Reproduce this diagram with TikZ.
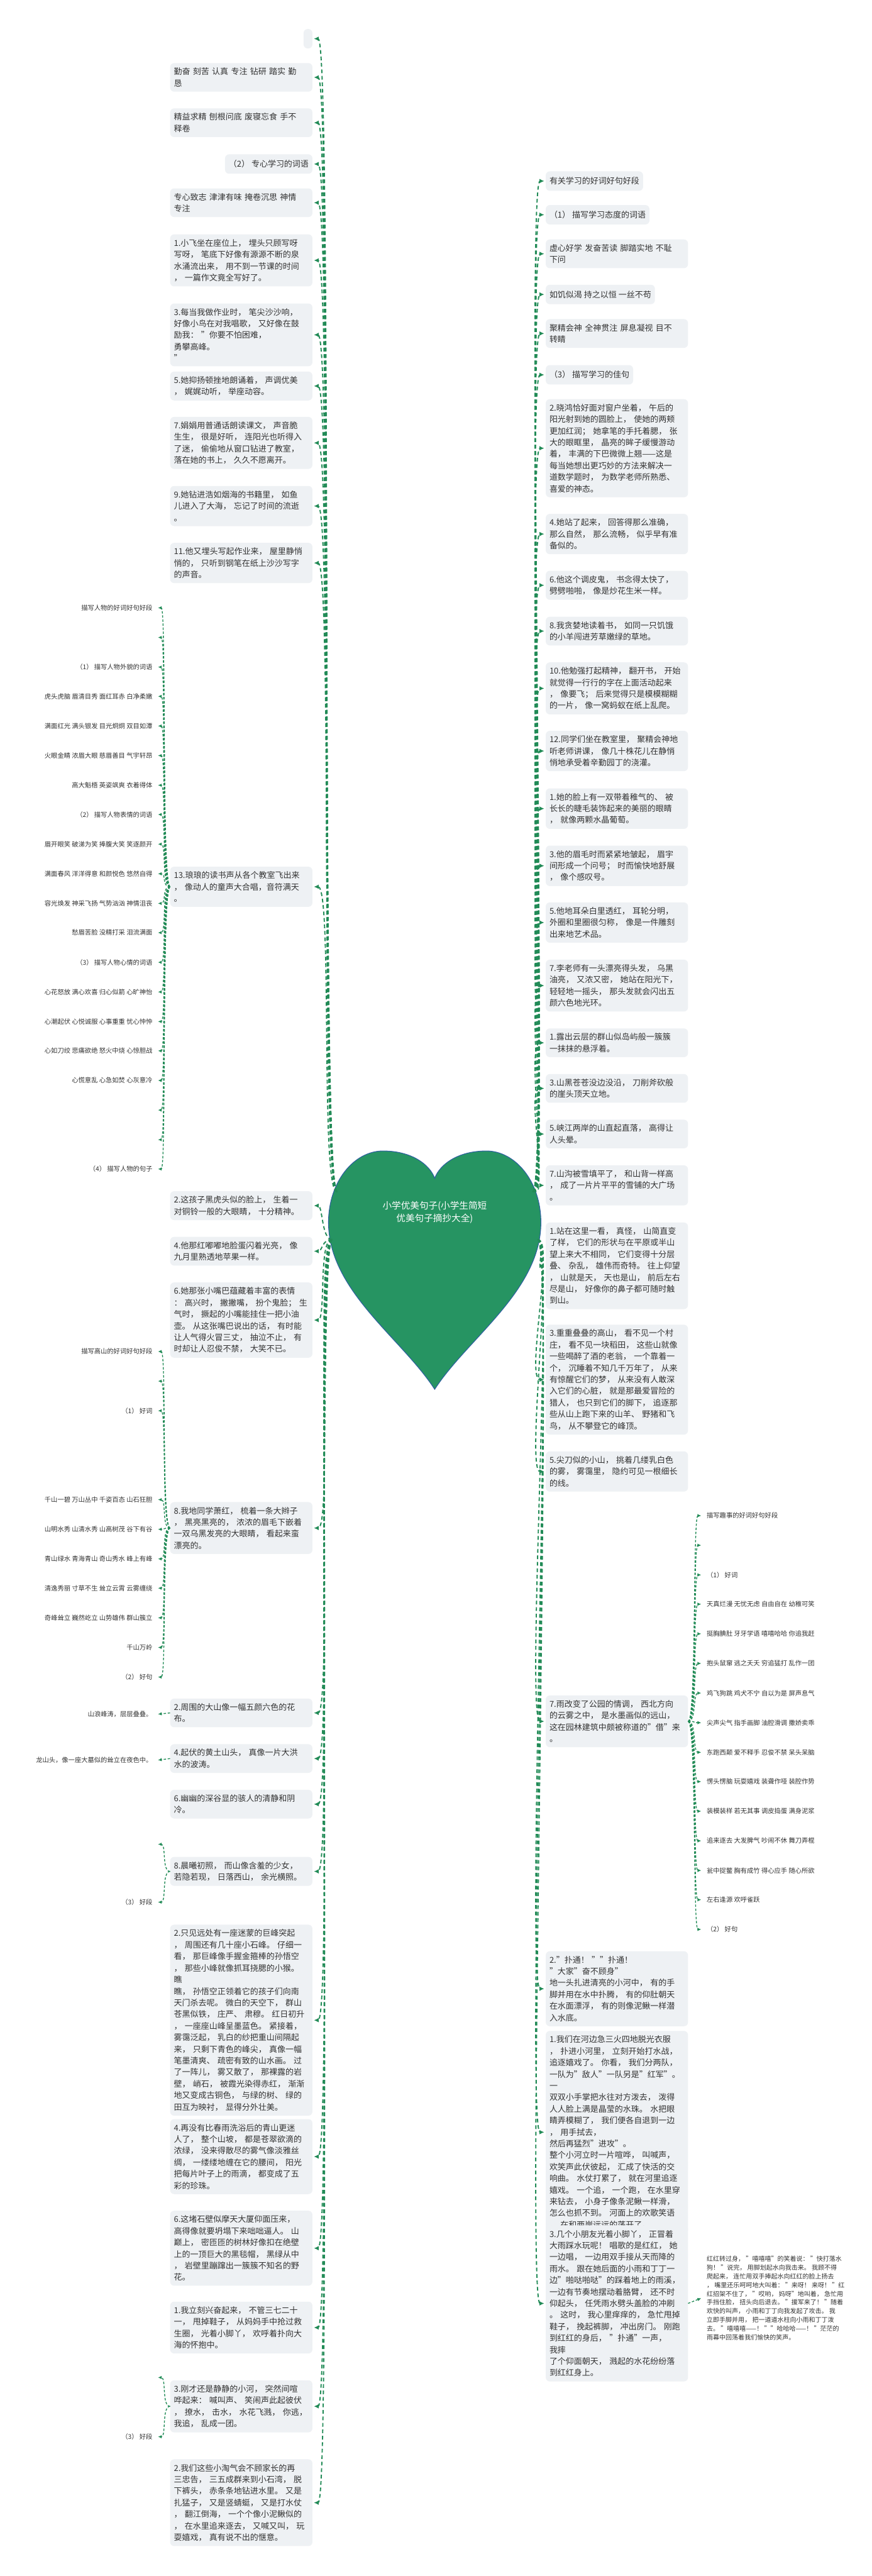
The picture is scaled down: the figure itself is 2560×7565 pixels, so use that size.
\documentclass[tikz,border=0pt]{standalone}
\usepackage{fontspec}
\setmainfont{Noto Sans CJK SC}
\usetikzlibrary{arrows.meta}
\definecolor{linkgreen}{RGB}{34,139,87}
\definecolor{heartgreen}{RGB}{38,148,98}
\definecolor{heartline}{RGB}{45,95,160}
\definecolor{boxgray}{RGB}{238,241,244}
\definecolor{inkgray}{RGB}{51,51,51}

\begin{document}
\begin{tikzpicture}[x=1pt, y=-1pt,
    every node/.style={font=\fontsize{24}{34}\selectfont, text=inkgray},
    card/.style={fill=boxgray, rounded corners=12pt, inner xsep=11pt, inner ysep=14pt, align=left},
    wide/.style={card, text width=396pt},
    tag/.style={card, minimum height=57pt},
    word/.style={font=\fontsize{19}{26}\selectfont, inner xsep=16pt, inner ysep=4pt},
    link/.style={linkgreen, line width=3.5pt, dash pattern=on 11pt off 8pt, -{Latex[length=14pt,width=13pt]}, shorten >=4pt},
    sublink/.style={linkgreen, line width=2.5pt, dash pattern=on 7pt off 5pt, -{Latex[length=11pt,width=10pt]}}]
    \useasboundingbox (0,0) rectangle (2560,7565);
    \fill[white] (0,0) rectangle (2560,7565);
    % heart
    \filldraw[fill=heartgreen, draw=heartline, line width=2pt]
      (1277,4080) .. controls (1180,3930) and (965,3790) .. (965,3590)
      .. controls (965,3470) and (1040,3380) .. (1125,3380)
      .. controls (1210,3380) and (1262,3420) .. (1277,3460)
      .. controls (1292,3420) and (1344,3380) .. (1429,3380)
      .. controls (1514,3380) and (1589,3470) .. (1589,3590)
      .. controls (1589,3790) and (1374,3930) .. (1277,4080) -- cycle;
    \node[text=white, font=\fontsize{27}{38}\selectfont, align=center] (root) at (1277,3560) {小学优美句子(小学生简短\\优美句子摘抄大全)};
    \coordinate (hUL) at (990,3500);
    \coordinate (hLL) at (975,3640);
    \coordinate (hUR) at (1565,3500);
    \coordinate (hLR) at (1580,3640);

    % left column
    \node[card, anchor=north east, minimum height=57pt, minimum width=26pt] (l0) at (918,85) {};
    \node[wide, anchor=north east] (l1) at (918,185) {勤奋 刻苦 认真 专注 钻研 踏实 勤\\恳};
    \node[wide, anchor=north east] (l2) at (918,318) {精益求精 刨根问底 废寝忘食 手不\\释卷};
    \node[tag, anchor=north east] (l3) at (918,453) {（2） 专心学习的词语};
    \node[wide, anchor=north east] (l4) at (918,553) {专心致志 津津有味 掩卷沉思 神情\\专注};
    \node[wide, anchor=north east] (l5) at (918,688) {1.小飞坐在座位上， 埋头只顾写呀\\写呀， 笔底下好像有源源不断的泉\\水涌流出来， 用不到一节课的时间\\， 一篇作文竟全写好了。};
    \node[wide, anchor=north east] (l6) at (918,891) {3.每当我做作业时， 笔尖沙沙响，\\好像小鸟在对我唱歌， 又好像在鼓\\励我： "你要不怕困难， 勇攀高峰。\\"};
    \node[wide, anchor=north east] (l7) at (918,1091) {5.她抑扬顿挫地朗诵着， 声调优美\\， 娓娓动听， 举座动容。};
    \node[wide, anchor=north east] (l8) at (918,1224) {7.娟娟用普通话朗读课文， 声音脆\\生生， 很是好听， 连阳光也听得入\\了迷， 偷偷地从窗口钻进了教室，\\落在她的书上， 久久不愿离开。};
    \node[wide, anchor=north east] (l9) at (918,1427) {9.她钻进浩如烟海的书籍里， 如鱼\\儿进入了大海， 忘记了时间的流逝\\。};
    \node[wide, anchor=north east] (l10) at (918,1594) {11.他又埋头写起作业来， 屋里静悄\\悄的， 只听到钢笔在纸上沙沙写字\\的声音。};
    \node[wide, anchor=north east] (l11) at (918,2545) {13.琅琅的读书声从各个教室飞出来\\， 像动人的童声大合唱，音符满天\\。};
    \node[wide, anchor=north east] (l12) at (918,3498) {2.这孩子黑虎头似的脸上， 生着一\\对铜铃一般的大眼睛， 十分精神。};
    \node[wide, anchor=north east] (l13) at (918,3632) {4.他那红嘟嘟地脸蛋闪着光亮， 像\\九月里熟透地苹果一样。};
    \node[wide, anchor=north east] (l14) at (918,3766) {6.她那张小嘴巴蕴藏着丰富的表情\\： 高兴时， 撇撇嘴， 扮个鬼脸； 生\\气时， 撅起的小嘴能挂住一把小油\\壶。 从这张嘴巴说出的话， 有时能\\让人气得火冒三丈， 抽泣不止， 有\\时却让人忍俊不禁， 大笑不已。};
    \node[wide, anchor=north east] (l15) at (918,4411) {8.我地同学萧红， 梳着一条大辫子\\， 黑亮黑亮的， 浓浓的眉毛下嵌着\\一双乌黑发亮的大眼睛， 看起来蛮\\漂亮的。};
    \node[wide, anchor=north east] (l16) at (918,4988) {2.周围的大山像一幅五颜六色的花\\布。};
    \node[wide, anchor=north east] (l17) at (918,5122) {4.起伏的黄土山头， 真像一片大洪\\水的波涛。};
    \node[wide, anchor=north east] (l18) at (918,5256) {6.幽幽的深谷显的骇人的清静和阴\\冷。};
    \node[wide, anchor=north east] (l19) at (918,5453) {8.晨曦初照， 而山像含羞的少女，\\若隐若现， 日落西山， 余光横照。};
    \node[wide, anchor=north east] (l20) at (918,5652) {2.只见远处有一座迷蒙的巨峰突起\\， 周围还有几十座小石峰。 仔细一\\看， 那巨峰像手握金箍棒的孙悟空\\， 那些小峰就像抓耳挠腮的小猴。 瞧\\瞧， 孙悟空正领着它的孩子们向南\\天门杀去呢。 微白的天空下， 群山\\苍黑似铁， 庄严、 肃穆。 红日初升\\， 一座座山峰呈墨蓝色。 紧接着，\\雾霭泛起， 乳白的纱把重山间隔起\\来， 只剩下青色的峰尖， 真像一幅\\笔墨清爽、 疏密有致的山水画。 过\\了一阵儿， 雾又散了， 那裸露的岩\\壁， 峭石， 被霞光染得赤红， 渐渐\\地又变成古铜色， 与绿的树、 绿的\\田互为映衬， 显得分外壮美。};
    \node[wide, anchor=north east] (l21) at (918,6223) {4.再没有比春雨洗浴后的青山更迷\\人了， 整个山坡， 都是苍翠欲滴的\\浓绿， 没来得散尽的雾气像淡雅丝\\绸， 一缕缕地缠在它的腰间， 阳光\\把每片叶子上的雨滴， 都变成了五\\彩的珍珠。};
    \node[wide, anchor=north east] (l22) at (918,6492) {6.这堵石壁似摩天大厦仰面压来，\\高得像就要坍塌下来咄咄逼人。 山\\巅上， 密匝匝的树林好像扣在绝壁\\上的一顶巨大的黑毯帽， 黑绿从中\\， 岩壁里蹦蹿出一簇簇不知名的野\\花。};
    \node[wide, anchor=north east] (l23) at (918,6759) {1.我立刻兴奋起来， 不管三七二十\\一， 甩掉鞋子， 从妈妈手中抢过救\\生圈， 光着小脚丫， 欢呼着扑向大\\海的怀抱中。};
    \node[wide, anchor=north east] (l24) at (918,6990) {3.刚才还是静静的小河， 突然间喧\\哗起来： 喊叫声、 笑闹声此起彼伏\\， 撩水， 击水， 水花飞溅， 你逃，\\我追， 乱成一团。};
    \node[wide, anchor=north east] (l25) at (918,7222) {2.我们这些小淘气会不顾家长的再\\三忠告， 三五成群来到小石湾， 脱\\下裤头， 赤条条地钻进水里。 又是\\扎猛子， 又是竖蜻蜓， 又是打水仗\\， 翻江倒海， 一个个像小泥鳅似的\\， 在水里追来逐去， 又喊又叫， 玩\\耍嬉戏， 真有说不出的惬意。};

    % right column
    \node[tag, anchor=north west] (r1) at (1603,503) {有关学习的好词好句好段};
    \node[tag, anchor=north west] (r2) at (1603,602) {（1） 描写学习态度的词语};
    \node[wide, anchor=north west] (r3) at (1603,703) {虚心好学 发奋苦读 脚踏实地 不耻\\下问};
    \node[tag, anchor=north west] (r4) at (1603,836) {如饥似渴 持之以恒 一丝不苟};
    \node[wide, anchor=north west] (r5) at (1603,937) {聚精会神 全神贯注 屏息凝视 目不\\转睛};
    \node[tag, anchor=north west] (r6) at (1603,1072) {（3） 描写学习的佳句};
    \node[wide, anchor=north west] (r7) at (1603,1172) {2.晓鸿恰好面对窗户坐着， 午后的\\阳光射到她的圆脸上， 使她的两颊\\更加红润； 她拿笔的手托着腮， 张\\大的眼眶里， 晶亮的眸子缓慢游动\\着， 丰满的下巴微微上翘——这是\\每当她想出更巧妙的方法来解决一\\道数学题时， 为数学老师所熟悉、\\喜爱的神态。};
    \node[wide, anchor=north west] (r8) at (1603,1509) {4.她站了起来， 回答得那么准确，\\那么自然， 那么流畅， 似乎早有准\\备似的。};
    \node[wide, anchor=north west] (r9) at (1603,1676) {6.他这个调皮鬼， 书念得太快了，\\劈劈啪啪， 像是炒花生米一样。};
    \node[wide, anchor=north west] (r10) at (1603,1811) {8.我贪婪地读着书， 如同一只饥饿\\的小羊闯进芳草嫩绿的草地。};
    \node[wide, anchor=north west] (r11) at (1603,1945) {10.他勉强打起精神， 翻开书， 开始\\就觉得一行行的字在上面活动起来\\， 像要飞； 后来觉得只是模模糊糊\\的一片， 像一窝蚂蚁在纸上乱爬。};
    \node[wide, anchor=north west] (r12) at (1603,2146) {12.同学们坐在教室里， 聚精会神地\\听老师讲课， 像几十株花儿在静悄\\悄地承受着辛勤园丁的浇灌。};
    \node[wide, anchor=north west] (r13) at (1603,2315) {1.她的脸上有一双带着稚气的、 被\\长长的睫毛装饰起来的美丽的眼睛\\， 就像两颗水晶葡萄。};
    \node[wide, anchor=north west] (r14) at (1603,2483) {3.他的眉毛时而紧紧地皱起， 眉宇\\间形成一个问号； 时而愉快地舒展\\， 像个感叹号。};
    \node[wide, anchor=north west] (r15) at (1603,2650) {5.他地耳朵白里透红， 耳轮分明，\\外圈和里圈很匀称， 像是一件雕刻\\出来地艺术品。};
    \node[wide, anchor=north west] (r16) at (1603,2818) {7.李老师有一头漂亮得头发， 乌黑\\油亮， 又浓又密， 她站在阳光下，\\轻轻地一摇头， 那头发就会闪出五\\颜六色地光环。};
    \node[wide, anchor=north west] (r17) at (1603,3020) {1.露出云层的群山似岛屿般一簇簇\\一抹抹的悬浮着。};
    \node[wide, anchor=north west] (r18) at (1603,3154) {3.山黑苍苍没边没沿， 刀削斧砍般\\的崖头顶天立地。};
    \node[wide, anchor=north west] (r19) at (1603,3288) {5.峡江两岸的山直起直落， 高得让\\人头晕。};
    \node[wide, anchor=north west] (r20) at (1603,3422) {7.山沟被雪填平了， 和山背一样高\\， 成了一片片平平的雪铺的大广场\\。};
    \node[wide, anchor=north west] (r21) at (1603,3590) {1.站在这里一看， 真怪， 山简直变\\了样， 它们的形状与在平原或半山\\望上来大不相同， 它们变得十分层\\叠、 杂乱， 雄伟而奇特。 往上仰望\\， 山就是天， 天也是山， 前后左右\\尽是山， 好像你的鼻子都可随时触\\到山。};
    \node[wide, anchor=north west] (r22) at (1603,3890) {3.重重叠叠的高山， 看不见一个村\\庄， 看不见一块稻田， 这些山就像\\一些喝醉了酒的老翁， 一个靠着一\\个， 沉睡着不知几千万年了， 从来\\有惊醒它们的梦， 从来没有人敢深\\入它们的心脏， 就是那最爱冒险的\\猎人， 也只到它们的脚下， 追逐那\\些从山上跑下来的山羊、 野猪和飞\\鸟， 从不攀登它的峰顶。};
    \node[wide, anchor=north west] (r23) at (1603,4262) {5.尖刀似的小山， 挑着几缕乳白色\\的雾， 雾霭里， 隐约可见一根细长\\的线。};
    \node[wide, anchor=north west] (r24) at (1603,4979) {7.雨改变了公园的情调， 西北方向\\的云雾之中， 是水墨画似的远山，\\这在园林建筑中颇被称道的"借"来\\。};
    \node[wide, anchor=north west] (r25) at (1603,5730) {2."扑通！ ""扑通！ "大家"奋不顾身"\\地一头扎进清亮的小河中， 有的手\\脚并用在水中扑腾， 有的仰肚朝天\\在水面漂浮， 有的则像泥鳅一样潜\\入水底。};
    \node[wide, anchor=north west] (r26) at (1603,5964) {1.我们在河边急三火四地脱光衣服\\， 扑进小河里， 立刻开始打水战，\\追逐嬉戏了。 你看， 我们分两队，\\一队为"敌人"一队另是"红军"。 一\\双双小手掌把水往对方泼去， 泼得\\人人脸上满是晶莹的水珠。 水把眼\\睛弄模糊了， 我们便各自退到一边\\， 用手拭去， 然后再猛烈"进攻"。\\整个小河立时一片喧哗， 叫喊声，\\欢笑声此伏彼起， 汇成了快活的交\\响曲。 水仗打累了， 就在河里追逐\\嬉戏。 一个追， 一个跑， 在水里穿\\来钻去， 小身子像条泥鳅一样滑，\\怎么也抓不到。 河面上的欢歌笑语\\， 在和两岸远远的荡开了。};
    \node[wide, anchor=north west] (r27) at (1603,6535) {3.几个小朋友光着小脚丫， 正冒着\\大雨踩水玩呢！ 唱歌的是红红， 她\\一边唱， 一边用双手接从天而降的\\雨水。 跟在她后面的小雨和丁丁一\\边"啪哒啪哒"的踩着地上的雨溪，\\一边有节奏地摆动着胳臂， 还不时\\仰起头， 任凭雨水劈头盖脸的冲刷\\。 这时， 我心里痒痒的， 急忙甩掉\\鞋子， 挽起裤脚， 冲出房门。 刚跑\\到红红的身后， "扑通"一声， 我摔\\了个仰面朝天， 溅起的水花纷纷落\\到红红身上。};

    % people words (from 13.)
    \node[word, anchor=east] (pa0) at (464,1785) {描写人物的好词好句好段};
    \node[word, anchor=east] (pa1) at (464,1872) {};
    \node[word, anchor=east] (pa2) at (464,1959) {（1） 描写人物外貌的词语};
    \node[word, anchor=east] (pa3) at (464,2045) {虎头虎脑 眉清目秀 面红耳赤 白净柔嫩};
    \node[word, anchor=east] (pa4) at (464,2132) {满面红光 满头银发 目光炯炯 双目如潭};
    \node[word, anchor=east] (pa5) at (464,2219) {火眼金睛 浓眉大眼 慈眉善目 气宇轩昂};
    \node[word, anchor=east] (pa6) at (464,2306) {高大魁梧 英姿飒爽 衣着得体};
    \node[word, anchor=east] (pa7) at (464,2392) {（2） 描写人物表情的词语};
    \node[word, anchor=east] (pa8) at (464,2479) {眉开眼笑 破涕为笑 捧腹大笑 笑逐颜开};
    \node[word, anchor=east] (pa9) at (464,2566) {满面春风 洋洋得意 和颜悦色 悠然自得};
    \node[word, anchor=east] (pa10) at (464,2653) {容光焕发 神采飞扬 气势汹汹 神情沮丧};
    \node[word, anchor=east] (pa11) at (464,2739) {愁眉苦脸 没精打采 泪流满面};
    \node[word, anchor=east] (pa12) at (464,2826) {（3） 描写人物心情的词语};
    \node[word, anchor=east] (pa13) at (464,2913) {心花怒放 满心欢喜 归心似箭 心旷神怡};
    \node[word, anchor=east] (pa14) at (464,3000) {心潮起伏 心悦诚服 心事重重 忧心忡忡};
    \node[word, anchor=east] (pa15) at (464,3086) {心如刀绞 悲痛欲绝 怒火中烧 心惊胆战};
    \node[word, anchor=east] (pa16) at (464,3173) {心慌意乱 心急如焚 心灰意冷};
    \node[word, anchor=east] (pa17) at (464,3260) {};
    \node[word, anchor=east] (pa18) at (464,3347) {};
    \node[word, anchor=east] (pa19) at (464,3433) {（4） 描写人物的句子};

    % mountain words (from 8.)
    \node[word, anchor=east] (mb7) at (464,3969) {描写高山的好词好句好段};
    \node[word, anchor=east] (mb8) at (464,4056) {};
    \node[word, anchor=east] (mb9) at (464,4143) {（1） 好词};
    \node[word, anchor=east] (mb0) at (464,4404) {千山一碧 万山丛中 千姿百态 山石狂胆};
    \node[word, anchor=east] (mb1) at (464,4491) {山明水秀 山清水秀 山高树茂 谷下有谷};
    \node[word, anchor=east] (mb2) at (464,4578) {青山绿水 青海青山 奇山秀水 峰上有峰};
    \node[word, anchor=east] (mb3) at (464,4664) {清逸秀丽 寸草不生 耸立云霄 云雾缠绕};
    \node[word, anchor=east] (mb4) at (464,4751) {奇峰耸立 巍然屹立 山势雄伟 群山簇立};
    \node[word, anchor=east] (mb5) at (464,4838) {千山万岭};
    \node[word, anchor=east] (mb6) at (464,4925) {（2） 好句};
    \node[word, anchor=east] (mc0) at (464,5034) {山浪峰涛，层层叠叠。};
    \node[word, anchor=east] (mc1) at (464,5169) {龙山头，像一座大墓似的耸立在夜色中。};
    \node[word, anchor=east] (mc2) at (464,5416) {};
    \node[word, anchor=east] (mc3) at (464,5586) {（3） 好段};
    \node[word, anchor=east] (mc4) at (464,6982) {};
    \node[word, anchor=east] (mc5) at (464,7156) {（3） 好段};

    % fun words (from 7.)
    \node[word, anchor=west] (fd0) at (2060,4451) {描写趣事的好词好句好段};
    \node[word, anchor=west] (fd1) at (2060,4538) {};
    \node[word, anchor=west] (fd2) at (2060,4625) {（1） 好词};
    \node[word, anchor=west] (fd3) at (2060,4711) {天真烂漫 无忧无虑 自由自在 幼稚可笑};
    \node[word, anchor=west] (fd4) at (2060,4798) {挺胸腆肚 牙牙学语 嘻嘻哈哈 你追我赶};
    \node[word, anchor=west] (fd5) at (2060,4885) {抱头鼠窜 逃之夭夭 穷追猛打 乱作一团};
    \node[word, anchor=west] (fd6) at (2060,4972) {鸡飞狗跳 鸡犬不宁 自以为是 屏声息气};
    \node[word, anchor=west] (fd7) at (2060,5059) {尖声尖气 指手画脚 油腔滑调 撒娇卖乖};
    \node[word, anchor=west] (fd8) at (2060,5146) {东跑西颠 爱不释手 忍俊不禁 呆头呆脑};
    \node[word, anchor=west] (fd9) at (2060,5232) {愣头愣脑 玩耍嬉戏 装聋作哑 装腔作势};
    \node[word, anchor=west] (fd10) at (2060,5319) {装模装样 若无其事 调皮捣蛋 满身泥浆};
    \node[word, anchor=west] (fd11) at (2060,5406) {追来逐去 大发脾气 吵闹不休 舞刀弄棍};
    \node[word, anchor=west] (fd12) at (2060,5493) {瓮中捉鳖 胸有成竹 得心应手 随心所欲};
    \node[word, anchor=west] (fd13) at (2060,5579) {左右逢源 欢呼雀跃};
    \node[word, anchor=west] (fd14) at (2060,5666) {（2） 好句};
    \node[word, anchor=west, font=\fontsize{18.5}{25.6}\selectfont, align=left] (fe) at (2060,6749) {红红转过身， "嘻嘻嘻"的笑着说： "快打落水\\狗！ "说完， 用脚划起水向我击来。 我顾不得\\爬起来， 连忙用双手捧起水向红红的脸上扬去\\， 嘴里还乐呵呵地大叫着： "来呀！ 来呀！ "红\\红招架不住了， "哎哟， 妈呀"地叫着， 急忙用\\手挡住脸， 扭头向后退去。 "援军来了！ "随着\\欢快的叫声， 小雨和丁丁向我发起了攻击。 我\\立即手脚并用， 把一道道水柱向小雨和丁丁泼\\去。 "嘻嘻嘻——！ ""哈哈哈——！ "茫茫的\\雨幕中回荡着我们愉快的笑声。};

    % links from the heart, left
    \draw[link] (hUL) .. controls +(-50,0) and +(60,0) .. (l0.east);
    \draw[link] (hUL) .. controls +(-50,0) and +(60,0) .. (l1.east);
    \draw[link] (hUL) .. controls +(-50,0) and +(60,0) .. (l2.east);
    \draw[link] (hUL) .. controls +(-50,0) and +(60,0) .. (l3.east);
    \draw[link] (hUL) .. controls +(-50,0) and +(60,0) .. (l4.east);
    \draw[link] (hUL) .. controls +(-50,0) and +(60,0) .. (l5.east);
    \draw[link] (hUL) .. controls +(-50,0) and +(60,0) .. (l6.east);
    \draw[link] (hUL) .. controls +(-50,0) and +(60,0) .. (l7.east);
    \draw[link] (hUL) .. controls +(-50,0) and +(60,0) .. (l8.east);
    \draw[link] (hUL) .. controls +(-50,0) and +(60,0) .. (l9.east);
    \draw[link] (hUL) .. controls +(-50,0) and +(60,0) .. (l10.east);
    \draw[link] (hUL) .. controls +(-50,0) and +(60,0) .. (l11.east);
    \draw[link] (hLL) .. controls +(-30,0) and +(30,0) .. (l12.east);
    \draw[link] (hLL) .. controls +(-30,0) and +(30,0) .. (l13.east);
    \draw[link] (hLL) .. controls +(-40,0) and +(40,0) .. (l14.east);
    \draw[link] (hLL) .. controls +(-50,0) and +(60,0) .. (l15.east);
    \draw[link] (hLL) .. controls +(-50,0) and +(60,0) .. (l16.east);
    \draw[link] (hLL) .. controls +(-50,0) and +(60,0) .. (l17.east);
    \draw[link] (hLL) .. controls +(-50,0) and +(60,0) .. (l18.east);
    \draw[link] (hLL) .. controls +(-50,0) and +(60,0) .. (l19.east);
    \draw[link] (hLL) .. controls +(-50,0) and +(60,0) .. (l20.east);
    \draw[link] (hLL) .. controls +(-50,0) and +(60,0) .. (l21.east);
    \draw[link] (hLL) .. controls +(-50,0) and +(60,0) .. (l22.east);
    \draw[link] (hLL) .. controls +(-50,0) and +(60,0) .. (l23.east);
    \draw[link] (hLL) .. controls +(-50,0) and +(60,0) .. (l24.east);
    \draw[link] (hLL) .. controls +(-50,0) and +(60,0) .. (l25.east);
    % links from the heart, right
    \draw[link] (hUR) .. controls +(50,0) and +(-60,0) .. (r1.west);
    \draw[link] (hUR) .. controls +(50,0) and +(-60,0) .. (r2.west);
    \draw[link] (hUR) .. controls +(50,0) and +(-60,0) .. (r3.west);
    \draw[link] (hUR) .. controls +(50,0) and +(-60,0) .. (r4.west);
    \draw[link] (hUR) .. controls +(50,0) and +(-60,0) .. (r5.west);
    \draw[link] (hUR) .. controls +(50,0) and +(-60,0) .. (r6.west);
    \draw[link] (hUR) .. controls +(50,0) and +(-60,0) .. (r7.west);
    \draw[link] (hUR) .. controls +(50,0) and +(-60,0) .. (r8.west);
    \draw[link] (hUR) .. controls +(50,0) and +(-60,0) .. (r9.west);
    \draw[link] (hUR) .. controls +(50,0) and +(-60,0) .. (r10.west);
    \draw[link] (hUR) .. controls +(50,0) and +(-60,0) .. (r11.west);
    \draw[link] (hUR) .. controls +(50,0) and +(-60,0) .. (r12.west);
    \draw[link] (hUR) .. controls +(50,0) and +(-60,0) .. (r13.west);
    \draw[link] (hUR) .. controls +(50,0) and +(-60,0) .. (r14.west);
    \draw[link] (hUR) .. controls +(50,0) and +(-60,0) .. (r15.west);
    \draw[link] (hUR) .. controls +(50,0) and +(-60,0) .. (r16.west);
    \draw[link] (hUR) .. controls +(50,0) and +(-60,0) .. (r17.west);
    \draw[link] (hUR) .. controls +(50,0) and +(-60,0) .. (r18.west);
    \draw[link] (hUR) .. controls +(40,0) and +(-40,0) .. (r19.west);
    \draw[link] (hUR) .. controls +(30,0) and +(-30,0) .. (r20.west);
    \draw[link] (hLR) .. controls +(20,0) and +(-20,0) .. (r21.west);
    \draw[link] (hLR) .. controls +(50,0) and +(-60,0) .. (r22.west);
    \draw[link] (hLR) .. controls +(50,0) and +(-60,0) .. (r23.west);
    \draw[link] (hLR) .. controls +(50,0) and +(-60,0) .. (r24.west);
    \draw[link] (hLR) .. controls +(50,0) and +(-60,0) .. (r25.west);
    \draw[link] (hLR) .. controls +(50,0) and +(-60,0) .. (r26.west);
    \draw[link] (hLR) .. controls +(50,0) and +(-60,0) .. (r27.west);

    % word lists
    \draw[sublink] (l11.west) .. controls +(-25,0) and +(25,0) .. (pa0.east);
    \draw[sublink] (l11.west) .. controls +(-25,0) and +(25,0) .. (pa1.east);
    \draw[sublink] (l11.west) .. controls +(-25,0) and +(25,0) .. (pa2.east);
    \draw[sublink] (l11.west) .. controls +(-25,0) and +(25,0) .. (pa3.east);
    \draw[sublink] (l11.west) .. controls +(-25,0) and +(25,0) .. (pa4.east);
    \draw[sublink] (l11.west) .. controls +(-25,0) and +(25,0) .. (pa5.east);
    \draw[sublink] (l11.west) .. controls +(-25,0) and +(25,0) .. (pa6.east);
    \draw[sublink] (l11.west) .. controls +(-25,0) and +(25,0) .. (pa7.east);
    \draw[sublink] (l11.west) .. controls +(-25,0) and +(25,0) .. (pa8.east);
    \draw[sublink] (l11.west) .. controls +(-25,0) and +(25,0) .. (pa9.east);
    \draw[sublink] (l11.west) .. controls +(-25,0) and +(25,0) .. (pa10.east);
    \draw[sublink] (l11.west) .. controls +(-25,0) and +(25,0) .. (pa11.east);
    \draw[sublink] (l11.west) .. controls +(-25,0) and +(25,0) .. (pa12.east);
    \draw[sublink] (l11.west) .. controls +(-25,0) and +(25,0) .. (pa13.east);
    \draw[sublink] (l11.west) .. controls +(-25,0) and +(25,0) .. (pa14.east);
    \draw[sublink] (l11.west) .. controls +(-25,0) and +(25,0) .. (pa15.east);
    \draw[sublink] (l11.west) .. controls +(-25,0) and +(25,0) .. (pa16.east);
    \draw[sublink] (l11.west) .. controls +(-25,0) and +(25,0) .. (pa17.east);
    \draw[sublink] (l11.west) .. controls +(-25,0) and +(25,0) .. (pa18.east);
    \draw[sublink] (l11.west) .. controls +(-25,0) and +(25,0) .. (pa19.east);
    \draw[sublink] (l15.west) .. controls +(-25,0) and +(25,0) .. (mb7.east);
    \draw[sublink] (l15.west) .. controls +(-25,0) and +(25,0) .. (mb8.east);
    \draw[sublink] (l15.west) .. controls +(-25,0) and +(25,0) .. (mb9.east);
    \draw[sublink] (l15.west) .. controls +(-25,0) and +(25,0) .. (mb0.east);
    \draw[sublink] (l15.west) .. controls +(-25,0) and +(25,0) .. (mb1.east);
    \draw[sublink] (l15.west) .. controls +(-25,0) and +(25,0) .. (mb2.east);
    \draw[sublink] (l15.west) .. controls +(-25,0) and +(25,0) .. (mb3.east);
    \draw[sublink] (l15.west) .. controls +(-25,0) and +(25,0) .. (mb4.east);
    \draw[sublink] (l15.west) .. controls +(-25,0) and +(25,0) .. (mb5.east);
    \draw[sublink] (l15.west) .. controls +(-25,0) and +(25,0) .. (mb6.east);
    \draw[sublink] (l16.west) -- (mc0.east);
    \draw[sublink] (l17.west) -- (mc1.east);
    \draw[sublink] (l19.west) .. controls +(-25,0) and +(25,0) .. (mc2.east);
    \draw[sublink] (l19.west) .. controls +(-25,0) and +(25,0) .. (mc3.east);
    \draw[sublink] (l24.west) .. controls +(-25,0) and +(25,0) .. (mc4.east);
    \draw[sublink] (l24.west) .. controls +(-25,0) and +(25,0) .. (mc5.east);
    \draw[sublink] (r24.east) .. controls +(25,0) and +(-25,0) .. (fd0.west);
    \draw[sublink] (r24.east) .. controls +(25,0) and +(-25,0) .. (fd1.west);
    \draw[sublink] (r24.east) .. controls +(25,0) and +(-25,0) .. (fd2.west);
    \draw[sublink] (r24.east) .. controls +(25,0) and +(-25,0) .. (fd3.west);
    \draw[sublink] (r24.east) .. controls +(25,0) and +(-25,0) .. (fd4.west);
    \draw[sublink] (r24.east) .. controls +(25,0) and +(-25,0) .. (fd5.west);
    \draw[sublink] (r24.east) .. controls +(25,0) and +(-25,0) .. (fd6.west);
    \draw[sublink] (r24.east) .. controls +(25,0) and +(-25,0) .. (fd7.west);
    \draw[sublink] (r24.east) .. controls +(25,0) and +(-25,0) .. (fd8.west);
    \draw[sublink] (r24.east) .. controls +(25,0) and +(-25,0) .. (fd9.west);
    \draw[sublink] (r24.east) .. controls +(25,0) and +(-25,0) .. (fd10.west);
    \draw[sublink] (r24.east) .. controls +(25,0) and +(-25,0) .. (fd11.west);
    \draw[sublink] (r24.east) .. controls +(25,0) and +(-25,0) .. (fd12.west);
    \draw[sublink] (r24.east) .. controls +(25,0) and +(-25,0) .. (fd13.west);
    \draw[sublink] (r24.east) .. controls +(25,0) and +(-25,0) .. (fd14.west);
    \draw[sublink] (r27.east) -- (fe.west);
\end{tikzpicture}
\end{document}
